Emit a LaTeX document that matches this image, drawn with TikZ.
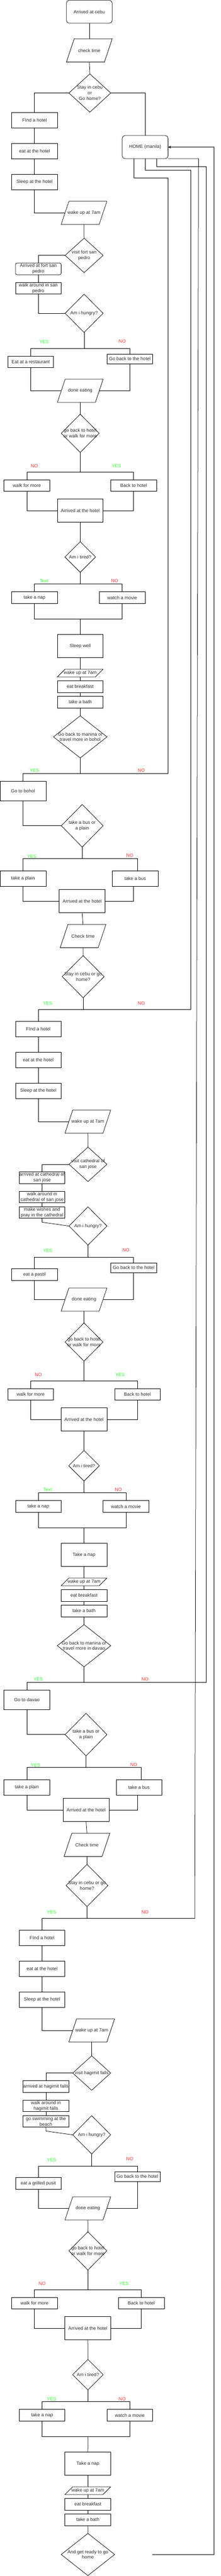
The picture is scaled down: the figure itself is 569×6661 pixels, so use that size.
\documentclass[tikz,border=0pt]{standalone}
\usepackage{fontspec}
\setmainfont{Liberation Sans}
\usetikzlibrary{shapes.geometric}
\usetikzlibrary{arrows.meta}
\definecolor{yesgreen}{RGB}{51,255,51}
\definecolor{nored}{RGB}{255,51,51}
\definecolor{ink}{RGB}{40,40,40}
\tikzset{
	box/.style={rectangle, draw, inner sep=0pt, outer sep=0pt, minimum width=118pt, minimum height=40pt, align=center},
	rbox/.style={box, rounded corners=7pt},
	io/.style={rectangle, inner sep=0pt, outer sep=0pt, minimum width=98pt, minimum height=60pt, align=center},
	dia/.style={diamond, draw, inner sep=0pt, outer sep=0pt, label={[align=center]center:{#1}}},
	yeslab/.style={text=yesgreen, inner sep=0pt},
	nolab/.style={text=nored, inner sep=0pt}
}
\begin{document}
\begin{tikzpicture}[x=1pt, y=-1pt, line width=1pt, font=\fontsize{12}{14.5}\selectfont, text=ink]
			\useasboundingbox (0, 0) rectangle (569, 6661);
			\node at (230.4, 30.4) [rbox, minimum height=59pt] (start) {Arrived at cebu};
			\node at (230.4, 130.4) [io] (time1) {check time};
			\node at (231.8, 240.5) [dia={Stay in cebu\\or\\Go home?}, minimum width=108pt, minimum height=99pt] (stay1) {};
			\node at (374.5, 380.4) [rbox, minimum height=60pt] (home) {HOME (manila)};
			\node at (89, 310.4) [box] (find1) {FInd a hotel};
			\node at (89, 390.4) [box] (eat1) {eat at the hotel};
			\node at (89, 470.4) [box] (sleep1) {Sleep at the hotel};
			\node at (216.8, 550.4) [io] (wake1) {wake up at 7am};
			\node at (217, 660.4) [dia={visit fort san\\pedro}, minimum width=98pt, minimum height=89pt] (visitfort) {};
			\node at (98.8, 695.4) [rbox, rounded corners=4pt, minimum height=30pt] (arrfort) {Arrived at fort san\\pedro};
			\node at (98.8, 745.4) [box, minimum height=30pt] (walkfort) {walk around in san\\pedro};
			\node at (217, 810.2) [dia={Am i hungry?}, minimum width=98pt, minimum height=99pt] (hungry1) {};
			\node at (113.6, 884.3) [yeslab] (yes1) {YES};
			\node at (315.4, 882.5) [nolab] (no1) {NO};
			\node at (79.1, 935.4) [box, minimum height=30pt] (rest) {Eat at a restaurant};
			\node at (335, 927.9) [box, minimum height=25pt] (back1) {Go back to the hotel};
			\node at (207.1, 1010.4) [io] (done1) {done eating};
			\node at (207, 1120.4) [dia={go back to hotel\\or walk for more}, minimum width=98pt, minimum height=99pt] (choice1) {};
			\node at (88.9, 1204.6) [nolab] (no2) {NO};
			\node at (300.4, 1204.6) [yeslab] (yes2) {YES};
			\node at (69.3, 1255.4) [box, minimum height=30pt] (more1) {walk for more};
			\node at (344.8, 1255.4) [box, minimum height=30pt] (backh1) {Back to hotel};
			\node at (207, 1320.4) [box, minimum height=60pt] (hotel1) {Arrived at the hotel};
			\node at (207, 1440.4) [dia={Am i tired?}, minimum width=79pt, minimum height=79pt] (tired1) {};
			\node at (113.6, 1502.5) [yeslab] (yes3) {Text};
			\node at (295.7, 1502.5) [nolab] (no3) {NO};
			\node at (89, 1545.4) [box, minimum height=30pt] (nap1) {take a nap};
			\node at (315.2, 1545.4) [box, minimum height=30pt] (movie1) {watch a movie};
			\node at (207, 1670.4) [box, minimum height=60pt] (sleepwell) {Sleep well};
			\node at (207, 1740.4) [io, minimum height=20pt] (wake2) {wake up at 7am};
			\node at (207, 1775.4) [box, minimum height=30pt] (bfast1) {eat breakfast};
			\node at (207, 1815.4) [box, minimum height=30pt] (bath1) {take a bath};
			\node at (207, 1905.4) [dia={Go back to manina or\\travel more in bohol}, minimum width=138pt, minimum height=109pt] (manila1) {};
			\node at (88.9, 1992.5) [yeslab] (yes4) {YES};
			\node at (364.6, 1992.5) [nolab] (no4) {NO};
			\node at (59.5, 2045.4) [box, minimum height=50pt] (bohol) {Go to bohol};
			\node at (212.1, 2135.2) [dia={take a bus or\\a plain}, minimum width=108pt, minimum height=110pt] (ride1) {};
			\node at (81.8, 2214.3) [yeslab] (yes5) {YES};
			\node at (335, 2212.5) [nolab] (no5) {NO};
			\node at (59.5, 2271.4) [box] (plain1) {take a plain};
			\node at (348.8, 2271.4) [box] (bus1) {take a bus};
			\node at (212, 2330.4) [box, minimum height=60pt] (hotel2) {Arrived at the hotel};
			\node at (214.3, 2420.4) [io] (time2) {Check time};
			\node at (214.5, 2525.4) [dia={Stay in cebu or go\\home?}, minimum width=108pt, minimum height=109pt] (stay2) {};
			\node at (123.2, 2594.6) [yeslab] (yes6) {YES};
			\node at (364.6, 2594.6) [nolab] (no6) {NO};
			\node at (98.8, 2660.4) [box] (find2) {FInd a hotel};
			\node at (98.8, 2740.4) [box] (eat2) {eat at the hotel};
			\node at (98.8, 2820.4) [box] (sleep2) {Sleep at the hotel};
			\node at (226.6, 2900.4) [io] (wake3) {wake up at 7am};
			\node at (227, 3010.7) [dia={visit cathedral of\\san jose}, minimum width=98pt, minimum height=89pt] (visitcath) {};
			\node at (108.6, 3045.4) [box, minimum height=30pt] (arrcath) {arrived at cathedral of\\san jose};
			\node at (108.6, 3095.4) [box, minimum height=30pt] (walkcath) {walk around in\\cathedral of san jose};
			\node at (108.6, 3135.4) [box, minimum height=30pt] (pray) {make wishes and\\pray in the cathedral};
			\node at (227, 3170.2) [dia={Am i hungry?}, minimum width=98pt, minimum height=99pt] (hungry2) {};
			\node at (123.2, 3234.3) [yeslab] (yes7) {YES};
			\node at (325, 3232.5) [nolab] (no7) {NO};
			\node at (89, 3295.4) [box, minimum height=30pt] (pastil) {eat a pastil};
			\node at (344.8, 3277.9) [box, minimum height=25pt] (back2) {Go back to the hotel};
			\node at (216.8, 3360.4) [io] (done2) {done eating};
			\node at (216.8, 3470.2) [dia={go back to hotel\\or walk for more}, minimum width=98pt, minimum height=99pt] (choice2) {};
			\node at (98.9, 3554.6) [nolab] (no8) {NO};
			\node at (310, 3554.6) [yeslab] (yes8) {YES};
			\node at (79.1, 3605.4) [box, minimum height=30pt] (more2) {walk for more};
			\node at (354.6, 3605.4) [box, minimum height=30pt] (backh2) {Back to hotel};
			\node at (216.8, 3670.4) [box, minimum height=60pt] (hotel3) {Arrived at the hotel};
			\node at (216.8, 3790.2) [dia={Am i tired?}, minimum width=79pt, minimum height=79pt] (tired2) {};
			\node at (123.2, 3852.5) [yeslab] (yes9) {Text};
			\node at (305.4, 3852.5) [nolab] (no9) {NO};
			\node at (98.8, 3895.4) [box, minimum height=30pt] (nap2) {take a nap};
			\node at (325, 3895.4) [box, minimum height=30pt] (movie2) {watch a movie};
			\node at (216.8, 4020.4) [box, minimum height=60pt] (tnap1) {Take a nap};
			\node at (216.8, 4090.4) [io, minimum height=20pt] (wake4) {wake up at 7am};
			\node at (216.8, 4125.4) [box, minimum height=30pt] (bfast2) {eat breakfast};
			\node at (216.8, 4165.4) [box, minimum height=30pt] (bath2) {take a bath};
			\node at (216.8, 4255.4) [dia={Go back to manina or\\travel more in davao}, minimum width=138pt, minimum height=109pt] (manila2) {};
			\node at (98.9, 4342.5) [yeslab] (yes10) {YES};
			\node at (374.3, 4342.5) [nolab] (no10) {NO};
			\node at (69.3, 4395.4) [box, minimum height=50pt] (davao) {Go to davao};
			\node at (222, 4485.2) [dia={take a bus or\\a plain}, minimum width=108pt, minimum height=110pt] (ride2) {};
			\node at (91.8, 4564.6) [yeslab] (yes11) {YES};
			\node at (345, 4562.9) [nolab] (no11) {NO};
			\node at (69.3, 4621.4) [box] (plain2) {take a plain};
			\node at (358.6, 4621.4) [box] (bus2) {take a bus};
			\node at (222, 4680.4) [box, minimum height=60pt] (hotel4) {Arrived at the hotel};
			\node at (224.3, 4770.4) [io] (time3) {Check time};
			\node at (224.5, 4875.4) [dia={Stay in cebu or go\\home?}, minimum width=108pt, minimum height=109pt] (stay3) {};
			\node at (133.2, 4944.6) [yeslab] (yes12) {YES};
			\node at (374.3, 4944.6) [nolab] (no12) {NO};
			\node at (108.6, 5010.4) [box] (find3) {FInd a hotel};
			\node at (108.6, 5090.4) [box] (eat3) {eat at the hotel};
			\node at (108.6, 5170.4) [box] (sleep3) {Sleep at the hotel};
			\node at (236.6, 5250.4) [io] (wake5) {wake up at 7am};
			\node at (236.6, 5360.4) [dia={visit hagimit falls}, minimum width=98pt, minimum height=89pt] (visitfalls) {};
			\node at (118.4, 5395.4) [box, minimum height=30pt] (arrfalls) {arrived at hagimit falls};
			\node at (118.4, 5445.4) [box, minimum height=30pt] (walkfalls) {walk around in\\hagimit falls};
			\node at (118.4, 5485.4) [box, minimum height=30pt] (swim) {go swimming at the\\beach};
			\node at (236.6, 5520.2) [dia={Am i hungry?}, minimum width=98pt, minimum height=99pt] (hungry3) {};
			\node at (133.2, 5584.6) [yeslab] (yes13) {YES};
			\node at (335, 5582.5) [nolab] (no13) {NO};
			\node at (98.8, 5645.4) [box, minimum height=30pt] (pusit) {eat a grilled pusit};
			\node at (354.6, 5627.9) [box, minimum height=25pt] (back3) {Go back to the hotel};
			\node at (226.6, 5710.4) [io] (done3) {done eating};
			\node at (226.8, 5820.2) [dia={go back to hotel\\or walk for more}, minimum width=98pt, minimum height=99pt] (choice3) {};
			\node at (108.6, 5904.6) [nolab] (no14) {NO};
			\node at (320, 5904.6) [yeslab] (yes14) {YES};
			\node at (89, 5955.4) [box, minimum height=30pt] (more3) {walk for more};
			\node at (364.5, 5955.4) [box, minimum height=30pt] (backh3) {Back to hotel};
			\node at (226.6, 6020.4) [box, minimum height=60pt] (hotel5) {Arrived at the hotel};
			\node at (226.8, 6140.3) [dia={Am i tired?}, minimum width=79pt, minimum height=79pt] (tired3) {};
			\node at (133.2, 6202.8) [yeslab] (yes15) {YES};
			\node at (315.4, 6202.8) [nolab] (no15) {NO};
			\node at (108.6, 6245.3) [box, minimum height=30pt] (nap3) {take a nap};
			\node at (335, 6245.3) [box, minimum height=30pt] (movie3) {watch a movie};
			\node at (226.6, 6370.3) [box, minimum height=60pt] (tnap2) {Take a nap};
			\node at (226.6, 6440.3) [io, minimum height=20pt] (wake6) {wake up at 7am};
			\node at (226.6, 6475.3) [box, minimum height=30pt] (bfast3) {eat breakfast};
			\node at (226.6, 6515.3) [box, minimum height=30pt] (bath3) {take a bath};
			\node at (226.8, 6605.3) [dia={And get ready to go\\home}, minimum width=138pt, minimum height=109pt] (gohome) {};
			\coordinate (j1) at (217, 900.4);
			\coordinate (j2) at (207, 1220.4);
			\coordinate (j3) at (207, 1510.4);
			\coordinate (m1) at (207, 1600.4);
			\coordinate (j4) at (207, 2000.4);
			\coordinate (j5) at (212.1, 2220.4);
			\coordinate (j6) at (214.5, 2610.4);
			\coordinate (j7) at (227, 3250.4);
			\coordinate (j8) at (216.8, 3570.4);
			\coordinate (j9) at (216.8, 3860.4);
			\coordinate (m2) at (216.8, 3950.4);
			\coordinate (j10) at (216.8, 4350.4);
			\coordinate (j11) at (222, 4570.4);
			\coordinate (j12) at (224.5, 4960.4);
			\coordinate (j13) at (236.6, 5600.4);
			\coordinate (j14) at (226.8, 5920.4);
			\coordinate (j15) at (226.8, 6210.3);
			\coordinate (m3) at (226.8, 6300.3);
			\coordinate (loose) at (393.6, 6605.3);
			\foreach \n in {time1, wake1, done1, wake2, time2, wake3, done2, wake4, time3, wake5, done3, wake6}
				\draw ([xshift=-10pt]\n.south west) -- ([xshift=10pt]\n.north west) -- ([xshift=10pt]\n.north east) -- ([xshift=-10pt]\n.south east) -- cycle;
			\draw (start.south) -- (time1.north);
			\draw (time1.south) -- (stay1.north);
			\draw (stay1.east) -| (home.north);
			\draw (stay1.west) -| (find1.north);
			\draw (find1.south) -- (eat1.north);
			\draw (eat1.south) -- (sleep1.north);
			\draw (sleep1.south) |- (wake1.west);
			\draw (wake1.south) -- (visitfort.north);
			\draw (visitfort.west) -| (arrfort.north);
			\draw (arrfort.south) -- (walkfort.north);
			\draw (walkfort.south) |- (hungry1.west);
			\draw (hungry1.south) -- (j1);
			\draw (rest.north) |- (j1) -| (back1.north);
			\draw (rest.south) |- (done1.west);
			\draw (back1.south) |- (done1.east);
			\draw (done1.south) -- (choice1.north);
			\draw (choice1.south) -- (j2);
			\draw (more1.north) |- (j2) -| (backh1.north);
			\draw (more1.south) |- (hotel1.west);
			\draw (backh1.south) |- (hotel1.east);
			\draw (hotel1.south) -- (tired1.north);
			\draw (tired1.south) -- (j3);
			\draw (nap1.north) |- (j3) -| (movie1.north);
			\draw (nap1.south) |- (m1) -| (movie1.south);
			\draw (m1) -- (sleepwell.north);
			\draw (sleepwell.south) -- (wake2.north);
			\draw (wake2.south) -- (bfast1.north);
			\draw (bfast1.south) -- (bath1.north);
			\draw (bath1.south) -- (manila1.north);
			\draw (manila1.south) -- (j4);
			\draw (bohol.north) |- (j4) -| (433.2, 460.4) -| ([xshift=-29.5pt]home.south);
			\draw (bohol.south) |- (ride1.west);
			\draw (ride1.south) -- (j5);
			\draw (plain1.north) |- (j5) -| ([xshift=6pt]bus1.north);
			\draw (plain1.south) |- (hotel2.west);
			\draw ([xshift=-4pt]bus1.south) |- (hotel2.east);
			\draw (hotel2.south) -- (time2.north);
			\draw (time2.south) -- (stay2.north);
			\draw (stay2.south) -- (j6);
			\draw (find2.north) |- (j6) -| (492.5, 440.4) -| (home.south);
			\draw (find2.south) -- (eat2.north);
			\draw (eat2.south) -- (sleep2.north);
			\draw (sleep2.south) |- (wake3.west);
			\draw (wake3.south) -- (visitcath.north);
			\draw (visitcath.west) -| (arrcath.north);
			\draw (arrcath.south) -- (walkcath.north);
			\draw (walkcath.south) -- (pray.north);
			\draw (pray.south) -- ++(0, 10) -- (hungry2.west);
			\draw (hungry2.south) -- (j7);
			\draw (pastil.north) |- (j7) -| (back2.north);
			\draw (pastil.south) |- (done2.west);
			\draw (back2.south) |- (done2.east);
			\draw (done2.south) -- (choice2.north);
			\draw (choice2.south) -- (j8);
			\draw (more2.north) |- (j8) -| (backh2.north);
			\draw (more2.south) |- (hotel3.west);
			\draw (backh2.south) |- (hotel3.east);
			\draw (hotel3.south) -- (tired2.north);
			\draw (tired2.south) -- (j9);
			\draw (nap2.north) |- (j9) -| (movie2.north);
			\draw (nap2.south) |- (m2) -| (movie2.south);
			\draw (m2) -- (tnap1.north);
			\draw (tnap1.south) -- (wake4.north);
			\draw (wake4.south) -- (bfast2.north);
			\draw (bfast2.south) -- (bath2.north);
			\draw (bath2.south) -- (manila2.north);
			\draw (manila2.south) -- (j10);
			\draw (davao.north) |- (j10) -| (531.8, 430.4) -| ([xshift=29.5pt]home.south);
			\draw (davao.south) |- (ride2.west);
			\draw (ride2.south) -- (j11);
			\draw (plain2.north) |- (j11) -| ([xshift=6pt]bus2.north);
			\draw (plain2.south) |- (hotel4.west);
			\draw ([xshift=-4pt]bus2.south) |- (hotel4.east);
			\draw (hotel4.south) -- (time3.north);
			\draw (time3.south) -- (stay3.north);
			\draw (stay3.south) -- (j12);
			\draw (find3.north) |- (j12) -- (502.5, 4960.4) -- (512.1, 410.4) -- (home.south east);
			\draw (find3.south) -- (eat3.north);
			\draw (eat3.south) -- (sleep3.north);
			\draw (sleep3.south) |- (wake5.west);
			\draw (wake5.south) -- (visitfalls.north);
			\draw (visitfalls.west) -| (arrfalls.north);
			\draw (arrfalls.south) -- (walkfalls.north);
			\draw (walkfalls.south) -- (swim.north);
			\draw (swim.south) -- ++(0, 10) -- (hungry3.west);
			\draw (hungry3.south) -- (j13);
			\draw (pusit.north) |- (j13) -| (back3.north);
			\draw (pusit.south) |- (done3.west);
			\draw (back3.south) |- (done3.east);
			\draw (done3.south) -- (choice3.north);
			\draw (choice3.south) -- (j14);
			\draw (more3.north) |- (j14) -| (backh3.north);
			\draw (more3.south) |- (hotel5.west);
			\draw (backh3.south) |- (hotel5.east);
			\draw (hotel5.south) -- (tired3.north);
			\draw (tired3.south) -- (j15);
			\draw (nap3.north) |- (j15) -| (movie3.north);
			\draw (nap3.south) |- (m3) -| (movie3.south);
			\draw (m3) -- (tnap2.north);
			\draw (tnap2.south) -- (wake6.north);
			\draw (wake6.south) -- (bfast3.north);
			\draw (bfast3.south) -- (bath3.north);
			\draw (bath3.south) -- (gohome.north);
			\draw [-{Stealth[length=8pt, width=7pt]}] (loose) -| (552.1, 380.4) -- (home.east);
		\end{tikzpicture}
\end{document}
